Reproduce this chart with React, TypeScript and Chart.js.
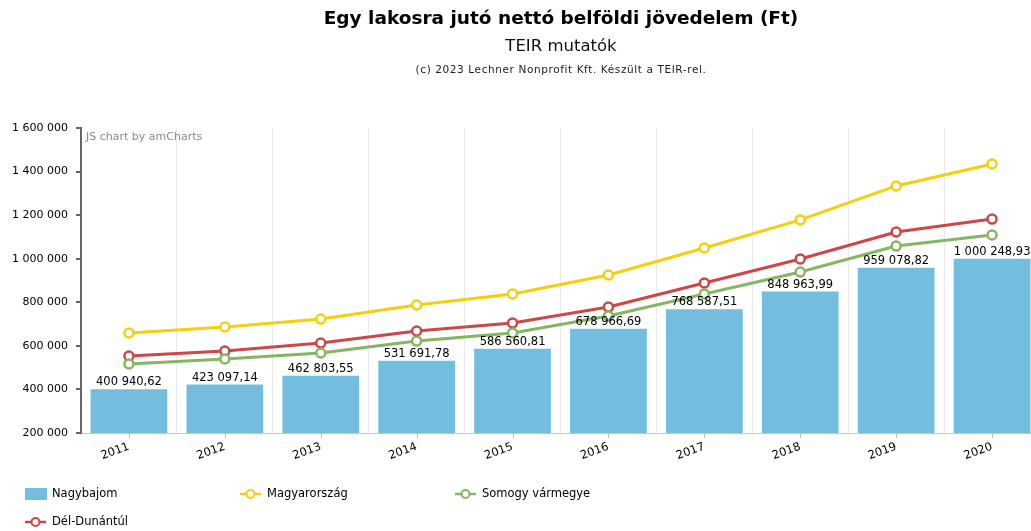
import React, { useEffect, useRef } from "react";
import { Chart, registerables } from "chart.js";

Chart.register(...registerables);

const years = ["2011", "2012", "2013", "2014", "2015", "2016", "2017", "2018", "2019", "2020"];
const nagybajom = [400940.62, 423097.14, 462803.55, 531691.78, 586560.81, 678966.69, 768587.51, 848963.99, 959078.82, 1000248.93];
const magyarorszag = [659000, 686500, 723000, 787500, 838000, 925000, 1049000, 1178000, 1334000, 1435000];
const somogy = [517000, 540000, 567000, 622000, 659000, 737000, 838000, 939000, 1058000, 1109000];
const delDunantul = [553000, 576000, 613000, 668000, 705000, 778000, 888500, 999000, 1122600, 1182000];

const titleText = "Egy lakosra jutó nettó belföldi jövedelem (Ft)";
const subtitleText = "TEIR mutatók";
const creditText = "(c) 2023 Lechner Nonprofit Kft. Készült a TEIR-rel.";
const watermarkText = "JS chart by amCharts";

const FONT = "'DejaVu Sans', Verdana, sans-serif";
const CANVAS_W = 1047;

const groupInt = (s: string) => s.replace(/\B(?=(\d{3})+(?!\d))/g, " ");
const fmtDec = (v: number) => {
  const [i, d] = v.toFixed(2).split(".");
  return groupInt(i) + "," + d;
};

const decorPlugin = {
  id: "decor",
  afterDatasetsDraw(chart: any) {
    const ctx = chart.ctx;
    const area = chart.chartArea;
    ctx.save();
    // titles
    ctx.textAlign = "center";
    ctx.textBaseline = "middle";
    ctx.fillStyle = "#000";
    ctx.font = `bold 18.5px ${FONT}`;
    ctx.fillText(titleText, 561, 19);
    ctx.font = `16.5px ${FONT}`;
    ctx.fillStyle = "#111";
    ctx.fillText(subtitleText, 561, 47);
    ctx.font = `10.5px ${FONT}`;
    ctx.fillStyle = "#222";
    (ctx as any).letterSpacing = "0.6px";
    ctx.fillText(creditText, 561, 70);
    (ctx as any).letterSpacing = "0px";
    // watermark
    ctx.textAlign = "left";
    ctx.font = `11px ${FONT}`;
    ctx.fillStyle = "#888";
    ctx.fillText(watermarkText, area.left + 5, area.top + 9);
    // x tick marks at centers
    const xs = chart.scales.x;
    ctx.strokeStyle = "#bbb";
    ctx.lineWidth = 1;
    years.forEach((_, i) => {
      const x = Math.round(xs.getPixelForValue(i)) + 0.5;
      ctx.beginPath();
      ctx.moveTo(x, area.bottom);
      ctx.lineTo(x, area.bottom + 5);
      ctx.stroke();
    });
    // bar labels
    const meta = chart.getDatasetMeta(0);
    ctx.font = `11.5px ${FONT}`;
    ctx.fillStyle = "#000";
    ctx.textAlign = "center";
    ctx.textBaseline = "bottom";
    meta.data.forEach((bar: any, i: number) => {
      ctx.fillText(fmtDec(nagybajom[i]), bar.x, bar.y - 1);
    });
    ctx.restore();
  },
  afterDraw(chart: any) {
    const ctx = chart.ctx;
    ctx.save();
    const colW = 215;
    chart.data.datasets.forEach((ds: any, k: number) => {
      const col = k % 3;
      const row = Math.floor(k / 3);
      const x0 = 25 + col * colW;
      const y = 494 + row * 28;
      if (ds.type === "line") {
        ctx.strokeStyle = ds.borderColor;
        ctx.lineWidth = 2.5;
        ctx.beginPath();
        ctx.moveTo(x0, y);
        ctx.lineTo(x0 + 21, y);
        ctx.stroke();
        ctx.beginPath();
        ctx.arc(x0 + 10.5, y, 4, 0, Math.PI * 2);
        ctx.fillStyle = "#fff";
        ctx.fill();
        ctx.lineWidth = 2;
        ctx.stroke();
      } else {
        ctx.fillStyle = ds.backgroundColor;
        ctx.fillRect(x0, y - 6, 22, 12);
      }
      ctx.fillStyle = "#000";
      ctx.font = `11.5px ${FONT}`;
      ctx.textAlign = "left";
      ctx.textBaseline = "middle";
      ctx.fillText(ds.label, x0 + 27, y);
    });
    ctx.restore();
  },
};

export default function App() {
  const ref = useRef<HTMLCanvasElement | null>(null);
  useEffect(() => {
    if (!ref.current) return;
    const lineDs = (label: string, data: number[], color: string, order: number) => ({
      type: "line" as const,
      label,
      data,
      borderColor: color,
      backgroundColor: "#fff",
      borderWidth: 3,
      pointRadius: 4.5,
      pointBorderWidth: 2.5,
      pointBackgroundColor: "#fff",
      pointBorderColor: color,
      tension: 0,
      order,
    });
    const chart = new Chart(ref.current, {
      type: "bar",
      data: {
        labels: years,
        datasets: [
          {
            type: "bar",
            label: "Nagybajom",
            data: nagybajom,
            backgroundColor: "rgba(103,183,220,0.92)",
            barPercentage: 0.8,
            categoryPercentage: 1,
            order: 10,
          } as any,
          lineDs("Magyarország", magyarorszag, "#f5ce0c", 3),
          lineDs("Somogy vármegye", somogy, "#84b761", 1),
          lineDs("Dél-Dunántúl", delDunantul, "#cc4748", 2),
        ],
      },
      options: {
        animation: false,
        responsive: false,
        maintainAspectRatio: false,
        layout: { padding: { top: 128, left: 0, right: 0, bottom: 0 } },
        plugins: {
          legend: { display: false },
          title: { display: false },
          tooltip: { enabled: false },
        },
        scales: {
          x: {
            offset: true,
            grid: { offset: true, color: "#e9e9e9", drawTicks: false },
            border: { color: "#c8c8c8", width: 1 },
            ticks: {
              minRotation: 20,
              maxRotation: 20,
              padding: 7,
              color: "#000",
              font: { family: FONT, size: 11.5 },
            },
            afterFit: (s: any) => {
              s.height = 98;
            },
          },
          y: {
            min: 200000,
            max: 1600000,
            grid: { drawOnChartArea: false, drawTicks: true, tickLength: 5, color: "#666", lineWidth: 2 },
            border: { color: "#666", width: 2 },
            ticks: {
              stepSize: 200000,
              padding: 8,
              color: "#000",
              font: { family: FONT, size: 11 },
              callback: (v: any) => groupInt(String(v)),
            },
            afterFit: (s: any) => {
              s.width = 81;
            },
          },
        },
      } as any,
      plugins: [decorPlugin],
    });
    return () => chart.destroy();
  }, []);
  return (
    <div style={{ position: "absolute", left: 0, top: 0, width: 1031, height: 531, background: "#fff", overflow: "hidden" }}>
      <canvas ref={ref} width={CANVAS_W} height={531} style={{ display: "block" }} />
    </div>
  );
}
